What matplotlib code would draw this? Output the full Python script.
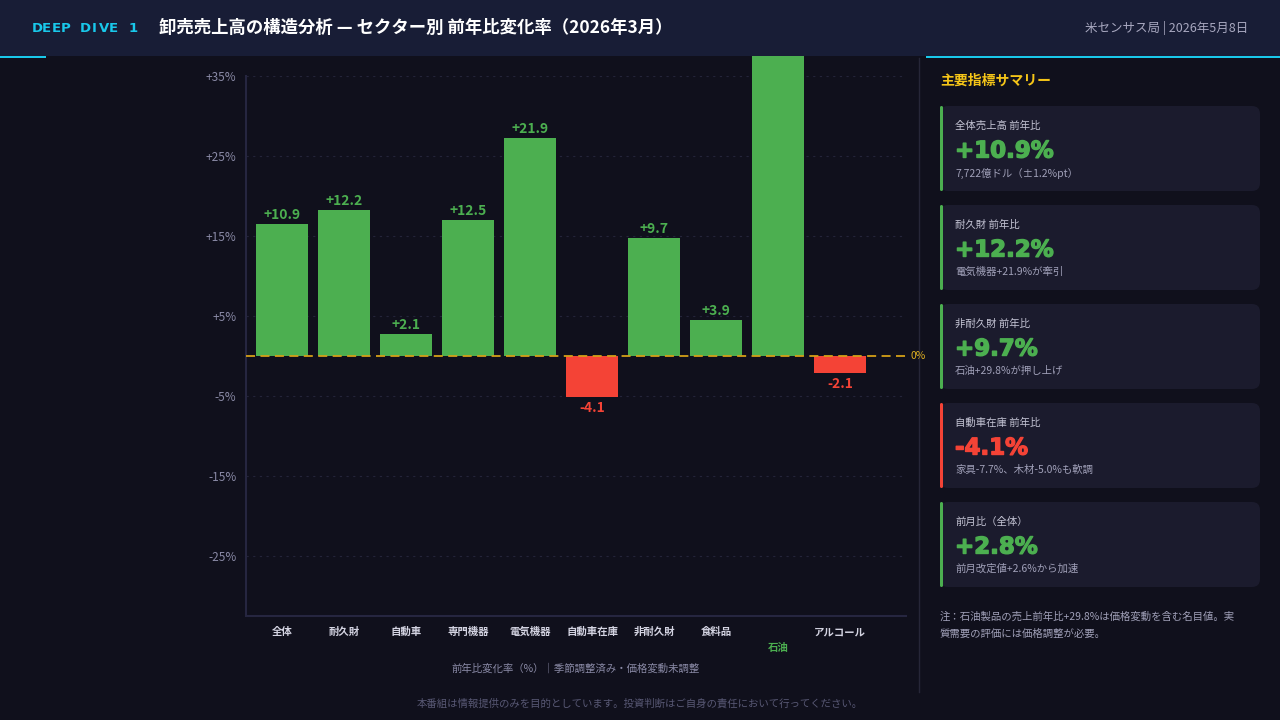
import matplotlib
matplotlib.use("Agg")
import matplotlib.pyplot as plt
import matplotlib.patheffects as pe
from matplotlib.patches import FancyBboxPatch, Rectangle
import numpy as np

plt.rcParams['font.family'] = ['Noto Sans CJK JP', 'DejaVu Sans']

# データ
sectors = ['全体', '耐久財', '自動車', '専門機器', '電気機器', '自動車在庫', '非耐久財', '食料品', '石油', 'アルコール']
bar_heights = [16.5, 18.25, 2.75, 17.0, 27.25, -5.1, 14.75, 4.5, 37.5, -2.1]   # 軸上の高さ
bar_labels = ['+10.9', '+12.2', '+2.1', '+12.5', '+21.9', '-4.1', '+9.7', '+3.9', '', '-2.1']
y_ticks = [35, 25, 15, 5, -5, -15, -25]
y_ticklabels = ['+35%', '+25%', '+15%', '+5%', '-5%', '-15%', '-25%']

card_titles = ['全体売上高 前年比', '耐久財 前年比', '非耐久財 前年比', '自動車在庫 前年比', '前月比（全体）']
card_values = ['+10.9%', '+12.2%', '+9.7%', '-4.1%', '+2.8%']
card_subs = ['7,722億ドル（±1.2%pt）', '電気機器+21.9%が牽引', '石油+29.8%が押し上げ',
             '家具-7.7%、木材-5.0%も軟調', '前月改定値+2.6%から加速']

BG = '#10101c'
HEADER = '#181d36'
GREEN = '#4caf50'
RED = '#f44336'
CYAN = '#19c8ea'
YELLOW = '#f5c518'
MUTED = '#8a8aa6'
CARD = '#1b1b2d'

fig = plt.figure(figsize=(12.8, 7.2), dpi=100)
fig.patch.set_facecolor(BG)

# 全体用オーバーレイ（ピクセル座標）
ov = fig.add_axes([0, 0, 1, 1])
ov.set_xlim(0, 1280)
ov.set_ylim(720, 0)
ov.axis('off')
ov.set_zorder(0)

ov.add_patch(Rectangle((0, 0), 1280, 56, color=HEADER, lw=0))
ov.add_patch(Rectangle((0, 56), 46, 2, color=CYAN, lw=0))
ov.add_patch(Rectangle((926, 56), 354, 2, color=CYAN, lw=0))
ov.plot([919, 919], [58, 692], color='#262638', lw=1)

# 字間を空けたラベル（1文字ずつ等間隔）
tag = 'DEEP DIVE 1'
for i, ch in enumerate(tag):
    ov.text(37 + i * 9.6, 28, ch, color=CYAN, fontsize=9.5, fontweight='bold',
            va='center', ha='center', family=['DejaVu Sans'])
ov.text(159, 28, '卸売売上高の構造分析 — セクター別 前年比変化率（2026年3月）', color='white',
        fontsize=12.5, fontweight='bold', va='center', ha='left')
ov.text(1248, 28, '米センサス局 | 2026年5月8日', color='#a8a8c0', fontsize=9,
        va='center', ha='right')

# 右パネル
ov.text(940, 81, '主要指標サマリー', color=YELLOW, fontsize=10, fontweight='bold', va='center')
for i, (t, v, s) in enumerate(zip(card_titles, card_values, card_subs)):
    top = 106 + i * 99
    c = RED if v.startswith('-') else GREEN
    ov.add_patch(FancyBboxPatch((940, top), 320, 85, boxstyle='round,pad=0,rounding_size=8',
                                fc=CARD, ec='none'))
    ov.add_patch(FancyBboxPatch((940, top), 3, 85, boxstyle='round,pad=0,rounding_size=1.5',
                                fc=c, ec='none'))
    ov.text(955, top + 20, t, color='#c4c4d4', fontsize=7.5, va='center')
    ov.text(955, top + 45, v, color=c, fontsize=16.5, fontweight='bold', va='center',
            family=['DejaVu Sans'],
            path_effects=[pe.withStroke(linewidth=1.0, foreground=c)])
    ov.text(955, top + 67, s, color='#a0a0b8', fontsize=7.5, va='center')

ov.text(940, 617, '注：石油製品の売上前年比+29.8%は価格変動を含む名目値。実', color='#a0a0b8',
        fontsize=7.5, va='center')
ov.text(940, 634, '質需要の評価には価格調整が必要。', color='#a0a0b8', fontsize=7.5, va='center')

ov.text(640, 704, '本番組は情報提供のみを目的としています。投資判断はご自身の責任において行ってください。',
        color='#585874', fontsize=7.5, ha='center', va='center')

# メインチャート
ax = fig.add_axes([246 / 1280, 1 - 616 / 720, 660 / 1280, 540 / 720])
ax.set_zorder(1)
ax.patch.set_alpha(0)
x = np.arange(len(sectors))
colors = [GREEN if h >= 0 else RED for h in bar_heights]
ax.bar(x, bar_heights, width=0.84, color=colors, clip_on=False, zorder=2)
ax.set_xlim(-0.58, 10.06)
ax.set_ylim(-32.5, 35)

for xi, h, lab in zip(x, bar_heights, bar_labels):
    if not lab:
        continue
    if h >= 0:
        ax.annotate(lab, (xi, h), xytext=(0, 1.5), textcoords='offset points', ha='center',
                    va='bottom', color=GREEN, fontsize=10, fontweight='bold')
    else:
        ax.annotate(lab, (xi, h), xytext=(0, -3), textcoords='offset points', ha='center',
                    va='top', color=RED, fontsize=10, fontweight='bold')

ax.axhline(0, color='#d4a017', lw=1.3, ls=(0, (5, 3)), zorder=3)
ax.text(1.007, 0, '0%', transform=ax.get_yaxis_transform(), color='#e0b020', fontsize=7.5,
        va='center', ha='left')

ax.set_yticks(y_ticks)
ax.set_yticklabels(y_ticklabels)
ax.grid(axis='y', color='#24243a', ls=(0, (2, 4)), lw=0.8)
ax.set_axisbelow(True)
ax.tick_params(axis='y', length=0, pad=7, labelcolor=MUTED, labelsize=8.5)
ax.set_xticks(x)
ax.set_xticklabels(sectors)
ax.tick_params(axis='x', length=0, pad=8, labelcolor='#d4d4e2', labelsize=7.5)
for lbl in ax.get_xticklabels():
    lbl.set_fontweight('bold')
    if lbl.get_text() == '石油':
        lbl.set_color(GREEN)
        lbl.set_y(-0.03)
ax.set_xlabel('前年比変化率（%）｜季節調整済み・価格変動未調整', color=MUTED, fontsize=7.5, labelpad=7)

for side in ['top', 'right']:
    ax.spines[side].set_visible(False)
for side in ['left', 'bottom']:
    ax.spines[side].set_color('#262640')
    ax.spines[side].set_linewidth(1.5)

fig.savefig('out.png', dpi=100, facecolor=BG)
